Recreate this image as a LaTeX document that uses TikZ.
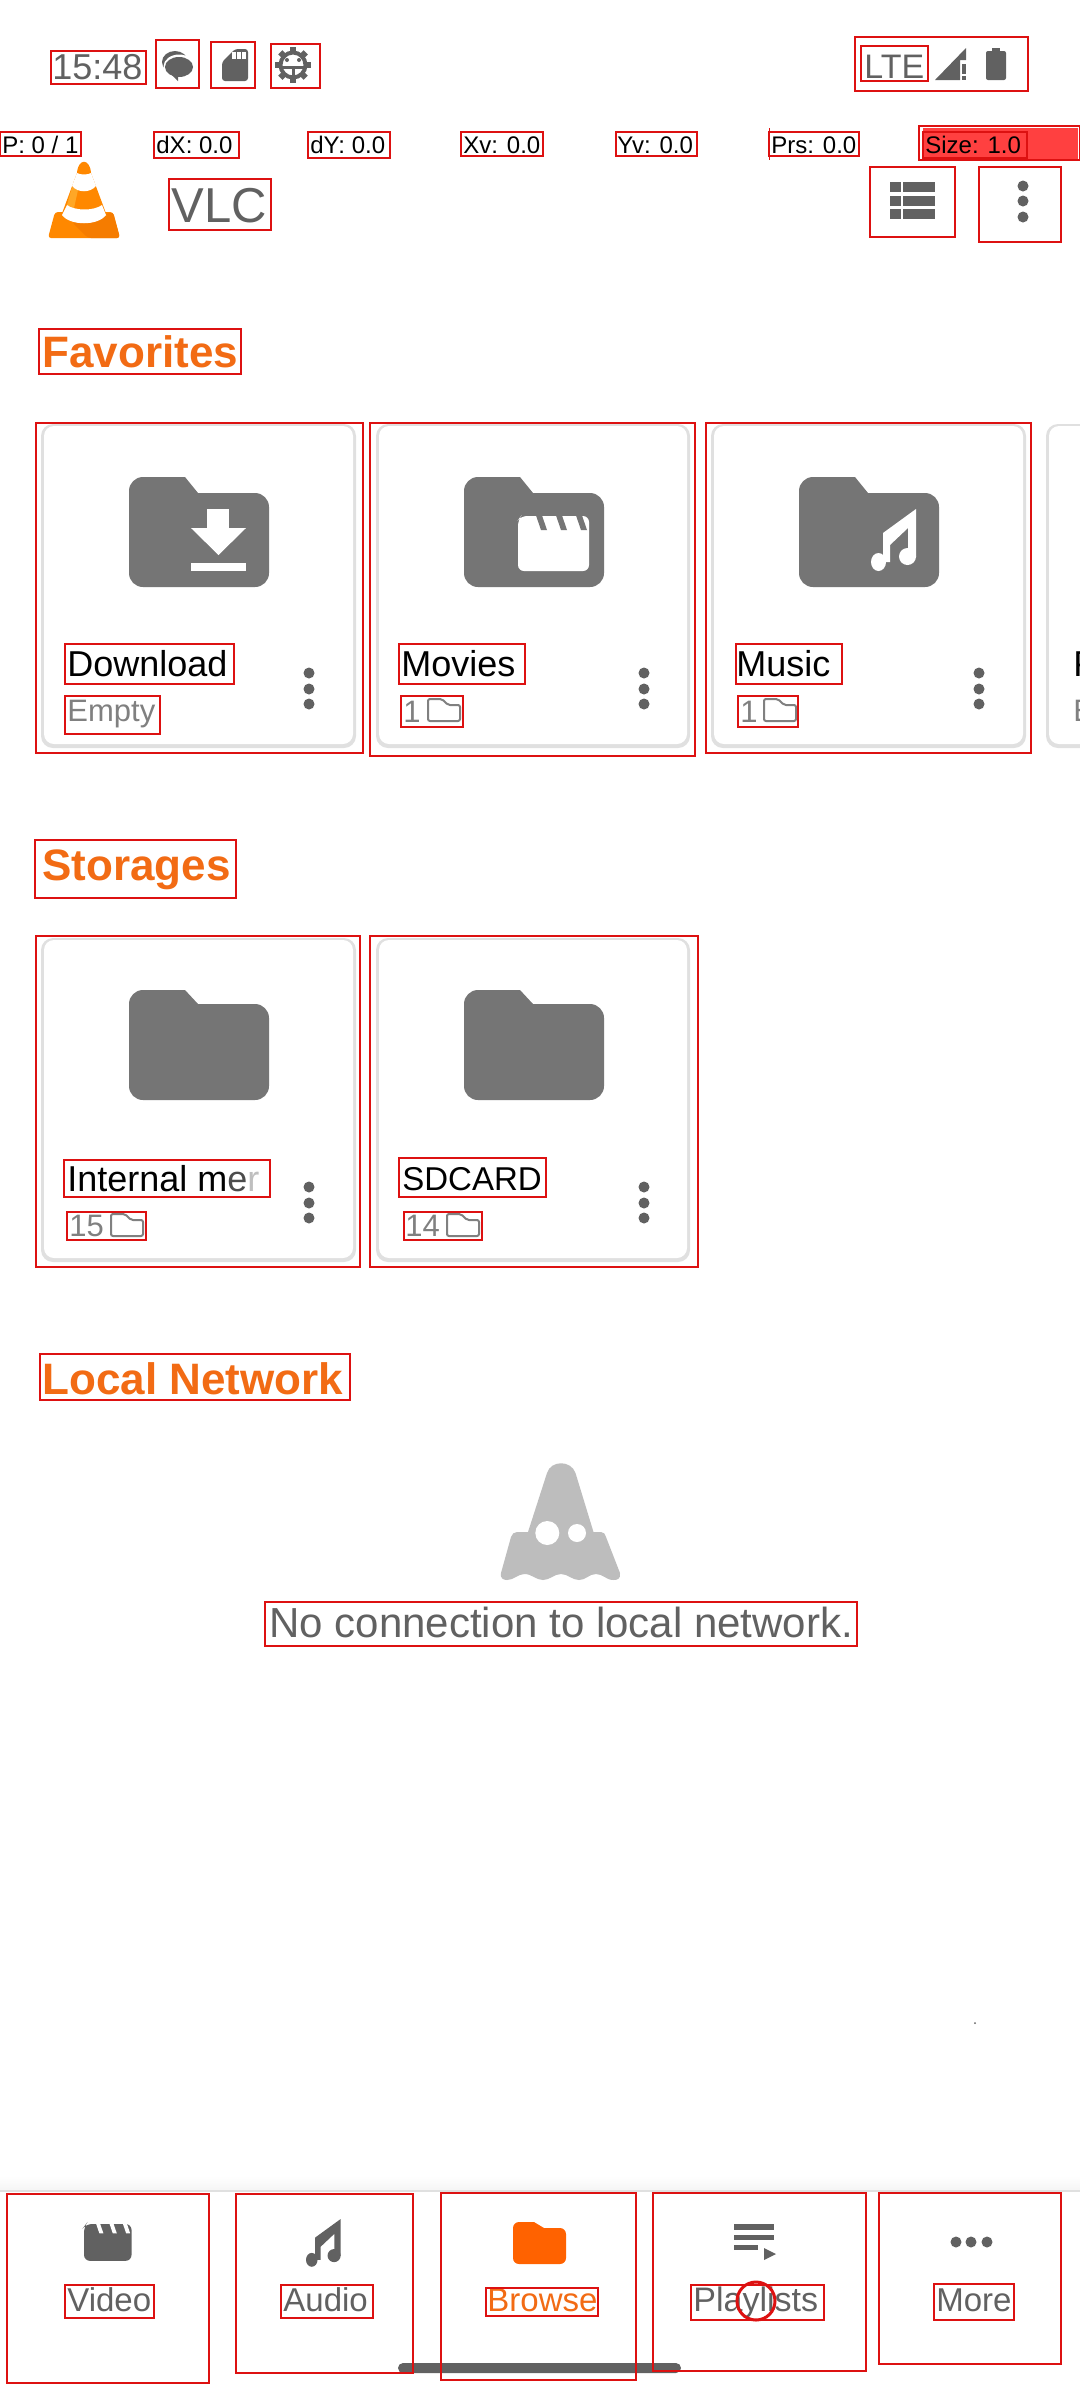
\documentclass[tikz,border=0pt]{standalone}
\usepackage{xcolor}
\usepackage{fontspec}
\usepackage{tikz}
\setmainfont{Liberation Sans}

\definecolor{boxred}{HTML}{DD1111}
\definecolor{inkgray}{HTML}{616161}
\definecolor{foldergray}{HTML}{757575}
\definecolor{subgray}{HTML}{808080}
\definecolor{cardgray}{HTML}{E0E0E0}
\definecolor{ghostgray}{HTML}{BDBDBD}
\definecolor{headorange}{HTML}{F26B14}
\definecolor{navorange}{HTML}{FF6200}
\definecolor{conemain}{HTML}{FF8800}
\definecolor{conedark}{HTML}{F57C00}
\definecolor{conelight}{HTML}{FFA726}

\tikzset{
    redbox/.style={draw=boxred,line width=1.2pt},
    txt/.style={anchor=base west,inner sep=0pt},
    status/.style={txt,text=inkgray,font=\fontsize{18}{20}\selectfont},
    bartext/.style={txt,text=black,font=\fontsize{12}{14}\selectfont},
    heading/.style={txt,text=headorange,font=\fontsize{22}{24}\selectfont\bfseries},
    itemname/.style={txt,text=black,font=\fontsize{18}{20}\selectfont},
    itemsub/.style={txt,text=subgray,font=\fontsize{15.5}{18}\selectfont},
    navtext/.style={txt,text=inkgray,font=\fontsize{16.5}{18}\selectfont},
}

\newcommand{\threedots}[2]{
    \foreach \d in {-16,0,15} {
        \fill[inkgray] (#1,#2+\d) circle(5.5);
    }
}
\newcommand{\bigfolder}[3]{
    \fill[foldergray,rounded corners=7pt] (#1,#2+55) -- (#1,#2) [rounded corners=0pt] -- (#1+56,#2)
        -- (#1+69,#2+#3) [rounded corners=7pt] -- (#1+140,#2+#3) -- (#1+140,#2+110) -- (#1,#2+110) -- cycle;
}
\newcommand{\smallfolder}[2]{
    \draw[subgray,line width=1pt,rounded corners=1pt] (#1,#2) -- (#1+14,#2) -- (#1+20,#2+6)
        -- (#1+32,#2+6) -- (#1+32,#2+22) -- (#1,#2+22) -- cycle;
}
\newcommand{\cardframe}[4]{
    \fill[cardgray,rounded corners=6pt] (#1,#2) rectangle (#3,#4);
    \fill[white,rounded corners=5pt] (#1+3,#2+2) rectangle (#3-3,#4-4);
}
\newcommand{\notemark}[4]{
    \begin{scope}[shift={(#1,#2)},scale=#3]
        \fill[#4] (12,24) -- (45,0) -- (45,48) -- (37,48) -- (37,19) -- (19,36) -- (19,53) -- (12,53) -- cycle;
        \fill[#4] (7.5,53) ellipse(7.5 and 9);
        \fill[#4] (36.5,47.5) ellipse(8.5 and 8.5);
    \end{scope}
}
\newcommand{\clapmark}[5]{
    \begin{scope}[shift={(#1,#2)},scale=#3]
        \fill[#4,rounded corners=3pt] (0,4) -- (3,0) -- (71,0) -- (71,55) -- (0,55) -- cycle;
        \foreach \s in {18,38,58} {
            \fill[#5] (\s,-0.5) -- (\s+6,-0.5) -- (\s+11,14) -- (\s+5,14) -- cycle;
        }
    \end{scope}
}

\begin{document}
\begin{tikzpicture}[x=0.5pt,y=-0.5pt]
    \path[use as bounding box,clip] (0,0) rectangle (1080,2400);
    \fill[white] (0,0) rectangle (1080,2400);

    \node[status] at (52,79) (clock) {15:48};
    \node[status,font=\fontsize{17}{20}\selectfont] at (864,78) (lte) {LTE};

    \fill[inkgray] (175,62) ellipse(13 and 11);
    \fill[white] (179,66.5) ellipse(15.5 and 12);
    \fill[inkgray] (179,67) ellipse(14 and 10);
    \fill[inkgray] (172,75) -- (178,81) -- (178,72) -- cycle;

    \fill[inkgray,rounded corners=1.5pt] (222,62) -- (235,49) -- (248,49) -- (248,81) -- (222,81) -- cycle;
    \foreach \x in {232,237,242} {
        \fill[white] (\x,52) rectangle (\x+3.5,59);
    }

    \draw[inkgray,line width=2pt] (293,65) circle(12.5);
    \foreach \a in {0,45,...,315} {
        \fill[inkgray,rotate around={\a:(293,65)}] (290,47) rectangle (296,54);
    }
    \fill[inkgray] (281,66) rectangle (305,69);
    \fill[inkgray] (291.5,66) rectangle (294.5,78);
    \fill[inkgray] (287,60) circle(2);
    \fill[inkgray] (299,60) circle(2);

    \fill[inkgray] (935,80) -- (966,48) -- (966,60) -- (960,60) -- (960,80) -- cycle;
    \fill[inkgray] (962,64) rectangle (966,74);
    \fill[inkgray] (962,76) rectangle (966,80);
    \fill[inkgray] (992,48) rectangle (1000,52);
    \fill[inkgray,rounded corners=1pt] (986,51) rectangle (1006,80);

    \fill[red!75!white] (923,128) rectangle (1078,159);
    \node[bartext] at (2,153) (pointers) {P: 0 / 1};
    \node[bartext] at (156,153) (deltax) {dX: 0.0};
    \node[bartext] at (310,153) (deltay) {dY: 0.0};
    \node[bartext] at (463,153) (velx) {Xv: 0.0};
    \node[bartext] at (617,153) (vely) {Yv: 0.0};
    \node[bartext] at (771,153) (press) {Prs: 0.0};
    \node[bartext] at (925,153) (touchsize) {Size: 1.0};
    \draw[boxred,line width=0.5pt] (769,128) -- (769,160);

    \fill[conemain,rounded corners=1.5pt] (55,212) -- (113,212) -- (120,238) -- (48,238) -- cycle;
    \fill[conedark,rounded corners=1.5pt] (72,222) -- (106,214) -- (113,212) -- (120,238) -- (88,238) -- cycle;
    \fill[conemain] (77,173) .. controls (78,158) and (90,158) .. (91,173) -- (107,216) -- (61,216) -- cycle;
    \fill[conelight] (72,187) -- (78,190) -- (74,208) -- (67,205) -- cycle;
    \fill[white] (77,173) .. controls (80,175) and (88,175) .. (91,173) -- (96,186)
        .. controls (90,193) and (78,193) .. (72,186) -- cycle;
    \fill[white] (67,205) .. controls (75,211) and (94,211) .. (102,205) -- (106,215)
        .. controls (98,226) and (70,226) .. (62,215) -- cycle;

    \node[status,font=\fontsize{24.5}{28}\selectfont] at (171,222) (applabel) {VLC};

    \foreach \y in {182,196,209} {
        \fill[inkgray] (890,\y) rectangle (901,\y+10);
        \fill[inkgray] (903,\y) rectangle (935,\y+10);
    }
    \foreach \y in {186,201,217} {
        \fill[inkgray] (1023,\y) circle(5.5);
    }

    \node[heading] at (42,367) (favhead) {Favorites};

    \cardframe{41}{424}{356}{748}
    \cardframe{376}{424}{690}{748}
    \cardframe{711}{424}{1026}{748}
    \cardframe{1046}{424}{1200}{748}
    \bigfolder{129}{477}{16}
    \bigfolder{464}{477}{16}
    \bigfolder{799}{477}{16}

    \fill[white] (207,509) rectangle (229,528);
    \fill[white] (191,528) -- (246,528) -- (218.5,555) -- cycle;
    \fill[white] (191,563) rectangle (246,571);
    \clapmark{518}{516}{1}{white}{foldergray}
    \notemark{871}{509}{1}{white}

    \node[itemname] at (67,676) (dlname) {Download};
    \node[itemsub] at (67,721) (dlsub) {Empty};
    \node[itemname] at (401,676) (mvname) {Movies};
    \node[itemsub] at (403,722) (mvsub) {1};
    \node[itemname] at (736,676) (muname) {Music};
    \node[itemsub] at (740,722) (musub) {1};
    \node[itemname] at (1073,676) (nextname) {P};
    \node[itemsub] at (1073,721) (nextsub) {E};
    \smallfolder{428}{699}
    \smallfolder{764}{699}
    \threedots{309}{689}
    \threedots{644}{689}
    \threedots{979}{689}

    \node[heading] at (42,880) (storehead) {Storages};

    \cardframe{41}{938}{356}{1262}
    \cardframe{376}{938}{690}{1262}
    \bigfolder{129}{990}{14}
    \bigfolder{464}{990}{14}

    \node[itemname] at (67,1191) (intname) {Internal m{\color{black!70}e}{\color{black!25}r}};
    \node[itemsub] at (69,1236) (intsub) {15};
    \node[itemname,font=\fontsize{16.5}{20}\selectfont] at (402,1190) (sdname) {SDCARD};
    \node[itemsub] at (405,1236) (sdsub) {14};
    \smallfolder{111}{1214}
    \smallfolder{447}{1214}
    \threedots{309}{1203}
    \threedots{644}{1203}

    \node[heading] at (42,1394) (nethead) {Local Network};

    \fill[ghostgray] (547,1473) .. controls (551,1460) and (571,1460) .. (575.5,1473) -- (593.5,1532)
        -- (601,1532) .. controls (604,1532) and (605,1534) .. (606,1537) -- (620,1573)
        .. controls (621,1579) and (617,1580) .. (613.5,1580)
        .. controls (606,1580) and (603,1574) .. (596,1574)
        .. controls (589,1574) and (586,1580) .. (579,1580)
        .. controls (572,1580) and (568,1574) .. (561,1574)
        .. controls (554,1574) and (550,1580) .. (543,1580)
        .. controls (536,1580) and (532,1574) .. (524.5,1574)
        .. controls (518,1574) and (514,1580) .. (507,1580)
        .. controls (503,1580) and (500,1578) .. (501,1573) -- (511,1537)
        .. controls (512,1534) and (514,1532) .. (517,1532) -- (528,1532) -- cycle;
    \fill[white] (547.3,1533) ellipse(12 and 12);
    \fill[white] (577,1533) ellipse(9 and 9);
    \node[status,font=\fontsize{21}{24}\selectfont] at (269,1637) (nonet) {No connection to local network.};

    \fill[inkgray] (975,2023) circle(1);

    \fill[top color=white,bottom color=black!4,draw=none] (0,2176) rectangle (1080,2190);
    \fill[cardgray] (0,2190) rectangle (1080,2192);

    \fill[inkgray,rounded corners=2.5pt] (398,2363) rectangle (681,2373);

    \clapmark{84}{2224}{0.67}{inkgray}{white}
    \notemark{306}{2219}{0.77}{inkgray}
    \fill[navorange,rounded corners=3pt] (513,2243) -- (513,2222) [rounded corners=0pt] -- (534,2222)
        -- (544,2228) [rounded corners=3pt] -- (566,2228) -- (566,2264) -- (513,2264) -- cycle;
    \fill[inkgray] (734,2224) rectangle (774,2230);
    \fill[inkgray] (734,2235) rectangle (774,2240);
    \fill[inkgray] (734,2245) rectangle (758,2250);
    \fill[inkgray] (764,2248) -- (776,2254) -- (764,2260) -- cycle;
    \foreach \x in {956,971,987} {
        \fill[inkgray] (\x,2242) circle(5.5);
    }

    \node[navtext] at (67,2311) (navvideo) {Video};
    \node[navtext] at (283,2311) (navaudio) {Audio};
    \node[navtext,text=headorange] at (487,2311) (navbrowse) {Browse};
    \node[navtext,font=\fontsize{17}{18}\selectfont] at (693,2311) (navlists) {Playlists};
    \node[navtext] at (936,2311) (navmore) {More};

    \foreach \a/\b/\c/\d in {
        51/51/146/84, 156/40/199/88, 211/42/255/88, 271/44/320/88,
        855/37/1028/91, 861/46/928/81,
        0/132/81/156, 154/132/239/158, 308/132/390/158, 461/132/543/156,
        616/132/697/156, 769/132/859/156, 919/126/1080/160, 923/132/1027/158,
        169/179/271/230, 870/167/955/237, 979/167/1061/242,
        39/329/241/374, 36/423/363/753, 370/423/695/756, 706/423/1031/753,
        65/644/234/684, 65/696/160/734, 399/644/525/684, 401/696/463/727,
        736/644/842/684, 738/696/798/727,
        35/840/236/898, 36/936/360/1267, 370/936/698/1267,
        64/1160/270/1197, 67/1212/146/1240, 399/1158/546/1197, 404/1212/482/1240,
        40/1354/350/1400, 265/1602/857/1646,
        7/2194/209/2383, 236/2194/413/2373, 441/2193/636/2380, 653/2193/866/2371, 879/2193/1061/2364,
        65/2285/154/2318, 281/2285/373/2318, 486/2288/598/2316, 691/2285/824/2320, 934/2284/1014/2320} {
        \draw[redbox] (\a,\b) rectangle (\c,\d);
    }
    \draw[boxred,line width=1.5pt] (756,2301) circle(19);
\end{tikzpicture}
\end{document}
